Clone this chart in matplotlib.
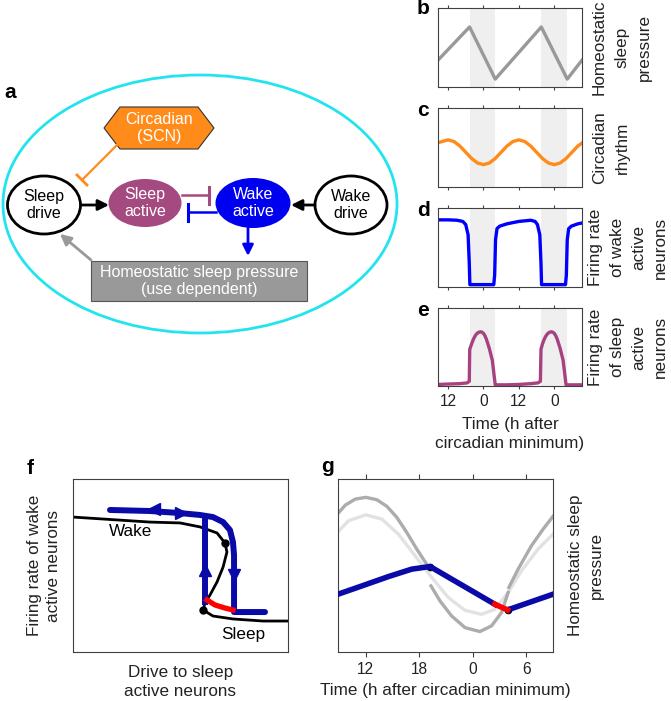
import matplotlib
matplotlib.use("Agg")
import matplotlib.pyplot as plt
from matplotlib.patches import Ellipse, Polygon, Rectangle
import numpy as np

plt.rcParams['font.family'] = ['Liberation Sans', 'DejaVu Sans']

# ---- data ----
# panels b-e: time in hours (continuous), ticks every 12 h
t_ticks = [12, 24, 36, 48]
t_ticklabels = ['12', '0', '12', '0']
sleep_bands = [(19.3, 28.0), (43.6, 52.4)]

homeo_t = [8.6, 19.3, 28.0, 43.6, 52.4, 57.4]
homeo_v = [0.34, 0.76, 0.10, 0.76, 0.10, 0.34]

circ_t = [8.6, 10, 12, 14, 16, 18, 20, 22, 24, 26, 28, 30, 32, 34, 36,
          38, 40, 42, 44, 46, 48, 50, 52, 54, 56, 57.4]
circ_v = [0.56, 0.576, 0.597, 0.576, 0.519, 0.44, 0.361, 0.304, 0.283,
          0.304, 0.361, 0.44, 0.519, 0.576, 0.597, 0.576, 0.519, 0.44,
          0.361, 0.304, 0.283, 0.304, 0.361, 0.44, 0.519, 0.556]

wake_t = [8.6, 12, 15, 17, 18, 18.8, 19.2, 19.4, 20, 27.5, 27.8, 28.1, 28.6,
          29.5, 32, 36, 40, 41.5, 42.3, 43.1, 43.5, 43.7, 44.3, 51.8, 52.1,
          52.4, 52.9, 53.8, 56, 57.4]
wake_v = [0.85, 0.85, 0.845, 0.83, 0.79, 0.66, 0.3, 0.03, 0.03, 0.03, 0.15,
          0.6, 0.74, 0.77, 0.80, 0.83, 0.845, 0.83, 0.79, 0.66, 0.3, 0.03,
          0.03, 0.03, 0.15, 0.6, 0.74, 0.77, 0.80, 0.81]

sleepn_t = [8.6, 12, 16, 18.5, 19.2, 19.35, 20, 20.5, 21, 21.5, 22, 22.5, 23,
            23.5, 24, 24.5, 25, 26, 27, 27.6, 28, 32, 36, 40, 42.5, 43.3,
            43.5, 44, 44.5, 45, 45.5, 46, 46.5, 47, 47.5, 48, 48.5, 49, 50,
            51, 51.6, 52, 57.4]
sleepn_v = [0.02, 0.025, 0.03, 0.04, 0.06, 0.47, 0.54, 0.59, 0.63, 0.66,
            0.68, 0.69, 0.695, 0.69, 0.675, 0.645, 0.60, 0.48, 0.33, 0.14,
            0.015, 0.015, 0.02, 0.03, 0.04, 0.06, 0.47, 0.54, 0.59, 0.63,
            0.66, 0.68, 0.69, 0.695, 0.69, 0.675, 0.645, 0.60, 0.48, 0.33,
            0.14, 0.015, 0.015]

# panel f: bifurcation diagram (axes fractions)
fold_x = [0.0, 0.358, 0.498, 0.591, 0.670, 0.707, 0.716, 0.698, 0.670,
          0.637, 0.614, 0.605, 0.651, 0.744, 0.884, 1.0]
fold_y = [0.780, 0.751, 0.746, 0.723, 0.688, 0.630, 0.578, 0.491, 0.405,
          0.329, 0.283, 0.243, 0.208, 0.191, 0.179, 0.179]
fold_pts_x = [0.707, 0.605]
fold_pts_y = [0.630, 0.243]
loop_x = [0.172, 0.358, 0.498, 0.591, 0.651, 0.698, 0.730, 0.744, 0.749,
          0.749, 0.893]
loop_y = [0.821, 0.815, 0.803, 0.792, 0.780, 0.751, 0.705, 0.636, 0.561,
          0.231, 0.231]
rise_x = [0.614, 0.614]
rise_y = [0.272, 0.790]
red_f_x = [0.623, 0.660, 0.707, 0.744]
red_f_y = [0.301, 0.272, 0.254, 0.243]

# panel g
g_ticks = [12, 18, 24, 30]
g_ticklabels = ['12', '18', '0', '6']
upper_t = [8.87, 9.69, 10.81, 12.0, 13.23, 14.35, 15.47, 16.58, 17.70, 18.56,
           19.0, np.nan, 19.3, 20.31, 21.62, 23.11, 24.78, 26.09, 27.21,
           27.95, np.nan, 28.03, 29.07, 30.56, 31.87, 32.98]
upper_v = [0.801, 0.849, 0.884, 0.894, 0.880, 0.842, 0.778, 0.691, 0.595,
           0.527, 0.494, np.nan, 0.382, 0.295, 0.208, 0.141, 0.118, 0.151,
           0.228, 0.344, np.nan, 0.373, 0.479, 0.614, 0.710, 0.784]
lower_t = [8.87, 10.06, 12.0, 13.79, 15.65, 17.52, 19.38, 21.24, 23.11, 24.97,
           26.46, 27.95, 29.44, 31.31, 32.98]
lower_v = [0.695, 0.759, 0.793, 0.768, 0.681, 0.556, 0.431, 0.315, 0.241,
           0.218, 0.247, 0.344, 0.469, 0.595, 0.681]
press_t = [8.87, 11.55, 14.53, 17.14, 19.19, 26.46]
press_v = [0.334, 0.382, 0.436, 0.479, 0.494, 0.276]
red_t = [26.46, 27.88]
red_v = [0.276, 0.243]
press2_t = [27.88, 32.98]
press2_v = [0.243, 0.334]
switch_t = [19.19, 27.88]
switch_v = [0.494, 0.243]

SPINE = '#404040'
TXT = '#222222'
LFS = 12.3
W, H = 671, 701

fig = plt.figure(figsize=(W / 100, H / 100), dpi=100)

# ---- panel a diagram on a pixel-coordinate overlay ----
ax0 = fig.add_axes([0, 0, 1, 1])
ax0.set_xlim(0, W)
ax0.set_ylim(H, 0)
ax0.axis('off')

ax0.add_patch(Ellipse((200, 204), 394, 258, fill=False, ec='#22E4EE', lw=2))
ax0.add_patch(Polygon([(104, 128), (120, 107), (198, 107), (214, 128),
                       (198, 149), (120, 149)], fc='#FF8C1A', ec='#333333', lw=0.8))
ax0.text(159, 128, 'Circadian\n(SCN)', color='white', fontsize=11.5,
         ha='center', va='center', multialignment='center')
ax0.plot([121, 82], [141, 180], color='#FF8C1A', lw=1.6)
ax0.plot([77, 87], [175, 185], color='#FF8C1A', lw=2)

ax0.add_patch(Ellipse((44, 205), 73, 58, fc='white', ec='black', lw=2))
ax0.text(44, 205, 'Sleep\ndrive', fontsize=11.5, ha='center', va='center',
         multialignment='center')
ax0.add_patch(Ellipse((351, 205), 72, 58, fc='white', ec='black', lw=2))
ax0.text(351, 205, 'Wake\ndrive', fontsize=11.5, ha='center', va='center',
         multialignment='center')

ax0.add_patch(Ellipse((145, 203), 73, 48, fc='#A54A80', ec='none'))
ax0.text(145, 203, 'Sleep\nactive', color='white', fontsize=11.5,
         ha='center', va='center', multialignment='center')
ax0.add_patch(Ellipse((253, 203), 75, 50, fc='#0000F0', ec='none'))
ax0.text(253, 203, 'Wake\nactive', color='white', fontsize=11.5,
         ha='center', va='center', multialignment='center')

ax0.plot([182, 209], [195, 195], color='#A54A80', lw=1.8)
ax0.plot([209, 209], [187, 204], color='#A54A80', lw=2.2)
ax0.plot([216, 188], [212, 212], color='#0000F0', lw=1.8)
ax0.plot([188, 188], [204, 221], color='#0000F0', lw=2.2)

arr = dict(arrowstyle='-|>', shrinkA=0, shrinkB=0, mutation_scale=16)
ax0.annotate('', xy=(109, 205), xytext=(82, 205),
             arrowprops=dict(arr, color='black', lw=2))
ax0.annotate('', xy=(291, 205), xytext=(315, 205),
             arrowprops=dict(arr, color='black', lw=2))
ax0.annotate('', xy=(248, 256), xytext=(248, 228),
             arrowprops=dict(arr, color='#0000F0', lw=2))
ax0.annotate('', xy=(60, 234), xytext=(91, 260),
             arrowprops=dict(arr, color='#999999', lw=2))

ax0.add_patch(Rectangle((91, 261), 216, 40, fc='#999999', ec='#555555', lw=0.8))
ax0.text(199, 281, 'Homeostatic sleep pressure\n(use dependent)', color='white',
         fontsize=11.5, ha='center', va='center', multialignment='center')

for lab, x, y in [('a', 10, 93), ('b', 423, 9), ('c', 423, 110), ('d', 423, 210),
                  ('e', 423, 310), ('f', 30, 469), ('g', 327, 467)]:
    ax0.text(x, y, lab, fontsize=15, fontweight='bold', ha='center', va='center')


def pos(x0, y0, x1, y1):
    return [x0 / W, 1 - y1 / H, (x1 - x0) / W, (y1 - y0) / H]


def style(ax):
    for s in ax.spines.values():
        s.set_color(SPINE)
        s.set_linewidth(0.8)
    ax.set_yticks([])


def right_label(ax, text, x, ls=1.4):
    ax.set_ylabel(text, fontsize=LFS, color=TXT, linespacing=ls)
    ax.yaxis.set_label_position('right')
    ax.yaxis.label.set(rotation_mode='default', va='center', ha='center',
                       multialignment='center')
    ax.yaxis.set_label_coords(x, 0.5)


# ---- panels b-e ----
rows = [(8, 87), (108, 187), (208, 287), (308, 386)]
series = [(homeo_t, homeo_v, '#999999'), (circ_t, circ_v, '#FF8C1A'),
          (wake_t, wake_v, '#0000FF'), (sleepn_t, sleepn_v, '#A8417F')]
labels = ['Homeostatic\nsleep\npressure', 'Circadian\nrhythm',
          'Firing rate\nof wake\nactive\nneurons',
          'Firing rate\nof sleep\nactive\nneurons']
label_x = [1.278, 1.20, 1.322, 1.322]
label_ls = [1.65, 1.65, 1.55, 1.55]
for i, ((y0, y1), (tt, vv, col)) in enumerate(zip(rows, series)):
    ax = fig.add_axes(pos(438, y0, 582, y1))
    style(ax)
    for a, b in sleep_bands:
        ax.axvspan(a, b, color='#EFEFEF', lw=0, zorder=0)
    ax.plot(tt, vv, color=col, lw=2.4, solid_joinstyle='round')
    ax.set_xlim(8.6, 57.4)
    ax.set_ylim(0, 1)
    ax.set_xticks(t_ticks)
    ax.tick_params(axis='x', direction='out', length=2.5, width=0.8,
                   top=True, bottom=True, colors=SPINE, labelcolor=TXT,
                   labelsize=11.2, labelbottom=(i == 3), pad=3)
    right_label(ax, labels[i], label_x[i], ls=label_ls[i])
    if i == 3:
        ax.set_xticklabels(t_ticklabels)
        ax.set_xlabel('Time (h after\ncircadian minimum)', fontsize=LFS,
                      color=TXT, linespacing=1.3)
        ax.xaxis.label.set(va='center', multialignment='center')
        ax.xaxis.set_label_coords(0.5, -0.615)

# ---- panel f ----
axf = fig.add_axes(pos(73, 479, 288, 652))
style(axf)
axf.set_xticks([])
axf.set_xlim(0, 1)
axf.set_ylim(0, 1)
DARKBLUE = '#0A0AA8'
axf.plot(fold_x, fold_y, color='black', lw=2.0, zorder=2,
         solid_joinstyle='round')
axf.plot(loop_x, loop_y, color=DARKBLUE, lw=4.3, solid_capstyle='round',
         solid_joinstyle='round', zorder=3)
axf.plot(rise_x, rise_y, color=DARKBLUE, lw=4.3, solid_capstyle='butt', zorder=3)
axf.plot(red_f_x, red_f_y, color='#FF0000', lw=3.8, zorder=4)
axf.plot(fold_pts_x, fold_pts_y, 'o', color='black', ms=5, zorder=5)
axf.plot([0.375], [0.825], marker='<', color=DARKBLUE, ms=9, zorder=6)
axf.plot([0.50], [0.805], marker='>', color=DARKBLUE, ms=9, zorder=6)
axf.plot([0.614], [0.474], marker='^', color=DARKBLUE, ms=9, zorder=6)
axf.plot([0.749], [0.445], marker='v', color=DARKBLUE, ms=9, zorder=6)
axf.text(0.27, 0.694, 'Wake', fontsize=LFS, ha='center', va='center')
axf.text(0.79, 0.104, 'Sleep', fontsize=LFS, ha='center', va='center')
axf.set_ylabel('Firing rate of wake\nactive neurons', fontsize=LFS,
               color=TXT, linespacing=1.3)
axf.yaxis.label.set(rotation_mode='default', va='center', ha='center',
                    multialignment='center')
axf.yaxis.set_label_coords(-0.135, 0.5)
axf.set_xlabel('Drive to sleep\nactive neurons', fontsize=LFS, color=TXT,
               linespacing=1.3)
axf.xaxis.label.set(va='center', multialignment='center')
axf.xaxis.set_label_coords(0.5, -0.173)

# ---- panel g ----
axg = fig.add_axes(pos(338, 479, 553, 652))
style(axg)
axg.set_xlim(8.87, 32.98)
axg.set_ylim(0, 1)
axg.plot(lower_t, lower_v, color='#E2E2E2', lw=2.4, zorder=2,
         solid_joinstyle='round')
axg.plot(upper_t, upper_v, color='#ACACAC', lw=2.4, zorder=2,
         solid_joinstyle='round')
axg.plot(press_t, press_v, color=DARKBLUE, lw=4.0, solid_joinstyle='round', zorder=3)
axg.plot(press2_t, press2_v, color=DARKBLUE, lw=4.0, zorder=3)
axg.plot(red_t, red_v, color='#FF0000', lw=4.0, zorder=4)
axg.plot(switch_t, switch_v, 'o', color='black', ms=4.5, zorder=2.5)
axg.set_xticks(g_ticks)
axg.set_xticklabels(g_ticklabels)
axg.tick_params(axis='x', direction='out', length=3.5, width=0.8, top=True,
                bottom=True, colors=SPINE, labelcolor=TXT, labelsize=11.2)
axg.set_xlabel('Time (h after circadian minimum)', fontsize=LFS, color=TXT)
axg.xaxis.label.set(va='center')
axg.xaxis.set_label_coords(0.5, -0.22)
right_label(axg, 'Homeostatic sleep\npressure', 1.153, ls=1.45)

fig.savefig('out.png', dpi=100)
